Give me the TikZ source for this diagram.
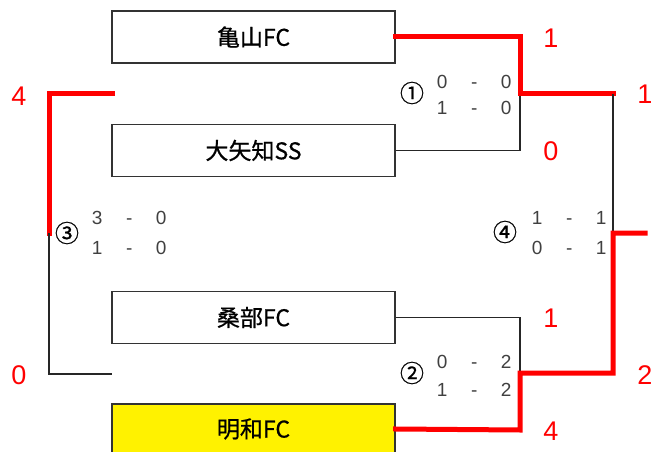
\documentclass[tikz,border=0pt]{standalone}
\usepackage{fontspec}
\setmainfont{Liberation Sans}
\newfontfamily\jp[FakeBold=0.7]{Noto Sans CJK JP}
\newfontfamily\jpc[FakeBold=0.8]{Noto Sans CJK JP}
\begin{document}
\begin{tikzpicture}[x=1pt,y=-1pt,
  team/.style={draw=black!80,line width=1.3pt,minimum width=283pt,minimum height=52pt,inner sep=0pt,font=\jp\fontsize{23}{23}\selectfont},
  win/.style={red,line width=5pt},
  lose/.style={black!85,line width=1.4pt},
  score/.style={red,font=\fontsize{27}{27}\selectfont},
  res/.style={text=black!75,font=\fontsize{19}{19}\selectfont,inner sep=0pt},
  circ/.style={font=\jpc\fontsize{24}{24}\selectfont,inner sep=0pt}]
\useasboundingbox (0,0) rectangle (659,452);
\node[team] (t1) at (253.5,37) {亀山FC};
\node[team] (t2) at (253.5,150.5) {大矢知SS};
\node[team] (t3) at (253.5,317.5) {桑部FC};
\node[team,fill=yellow,minimum height=50pt] (t4) at (253.5,429) {明和FC};
% match 1
\coordinate (m1) at (520,94);
\coordinate (f) at (613,233);
\draw[lose] (t2.east) -- (520,150.5) -- (m1);
\draw[win,line cap=rect] (t1.east) -- (520,37) -- (m1) -- (613,94);
\draw[lose] (613,94) -- (f);
% match 2
\coordinate (m2) at (520,373);
\draw[lose] (t3.east) -- (520,317.5) -- (m2);
\draw[win,line cap=rect] (t4.east) -- (520,430) -- (m2) -- (613,373) -- (f) -- (645,233);
% match 3
\coordinate (m3) at (49,233);
\draw[win,line cap=rect] (112,94) -- (49,94) -- (m3);
\draw[lose] (m3) -- (49,374) -- (112,374);
% scores
\node[score] (s1) at (551,38) {1};
\node[score] (s2) at (645,94) {1};
\node[score] (s3) at (551,151) {0};
\node[score] (s4) at (551,318) {1};
\node[score] (s5) at (645,375) {2};
\node[score] (s6) at (551,431) {4};
\node[score] (s7) at (19,96) {4};
\node[score] (s8) at (19,375) {0};
% match results
\newcommand{\sline}[2]{\makebox[14pt]{#1}\makebox[50pt]{-}\makebox[14pt]{#2}}
\node[circ] (c1) at (412,93) {①};
\node[res,anchor=west] (r1a) at (435,82) {\sline{0}{0}};
\node[res,anchor=west] (r1b) at (435,108) {\sline{1}{0}};
\node[circ] (c2) at (412,373) {②};
\node[res,anchor=west] (r2a) at (435,362) {\sline{0}{2}};
\node[res,anchor=west] (r2b) at (435,390) {\sline{1}{2}};
\node[circ] (c3) at (67,233) {③};
\node[res,anchor=west] (r3a) at (90,218) {\sline{3}{0}};
\node[res,anchor=west] (r3b) at (90,248) {\sline{1}{0}};
\node[circ] (c4) at (505,232) {④};
\node[res,anchor=west] (r4a) at (530,218) {\sline{1}{1}};
\node[res,anchor=west] (r4b) at (530,248) {\sline{0}{1}};
\end{tikzpicture}
\end{document}
